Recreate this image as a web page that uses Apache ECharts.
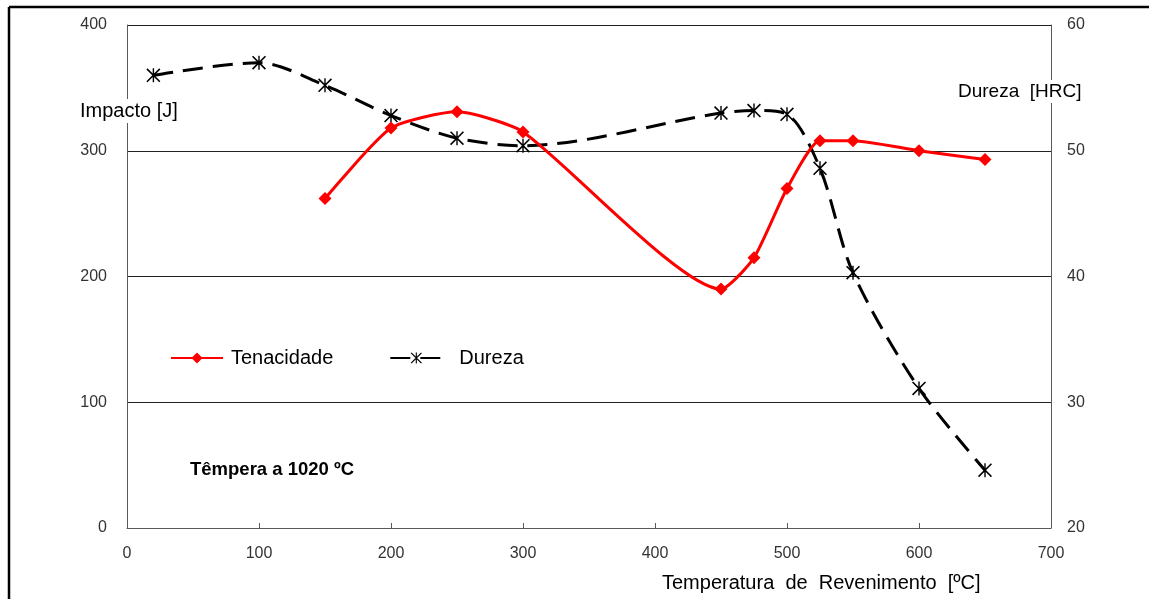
<!DOCTYPE html>
<html><head><meta charset="utf-8">
<script src="https://cdn.jsdelivr.net/npm/echarts@6/dist/echarts.min.js"></script>
<style>html,body{margin:0;padding:0;background:#fff}#c{width:1149px;height:599px}</style>
</head><body><div id="c"></div>
<script>
const tenTemps = [150, 200, 250, 300, 450, 475, 500, 525, 550, 600, 650];
const tenValues = [262, 318, 331, 315, 190, 215, 270, 308, 308, 300, 293];
const durTemps = [20, 100, 150, 200, 250, 300, 450, 475, 500, 525, 550, 600, 650];
const durValues = [56.0, 57.0, 55.2, 52.8, 51.0, 50.4, 53.0, 53.2, 52.9, 48.6, 40.3, 31.1, 24.6];
const xTicks = [0, 100, 200, 300, 400, 500, 600, 700];
const leftTicks = [0, 100, 200, 300, 400];
const rightTicks = [20, 30, 40, 50, 60];

const asterisk = 'path://M4.5 0L5.5 0L5.5 10L4.5 10Z M0 0.8L0.8 0L10 9.2L9.2 10Z M9.2 0L10 0.8L0.8 10L0 9.2Z';
const font = '"Liberation Sans", Arial, sans-serif';

const chart = echarts.init(document.getElementById('c'));
chart.setOption({
  animation: false,
  backgroundColor: '#fff',
  grid: { left: 127, right: 98, top: 25, bottom: 71, containLabel: false },
  legend: {
    left: 170, top: 348, padding: 0, itemGap: 56, itemWidth: 52, itemHeight: 14,
    textStyle: { fontFamily: font, fontSize: 20, color: '#000', padding: [0,0,0,3] },
    data: [
      { name: 'Tenacidade' },
      { name: 'Dureza', textStyle: { padding: [0,0,0,12] } }
    ]
  },
  xAxis: {
    type: 'value', min: xTicks[0], max: xTicks[xTicks.length-1], interval: 100,
    axisLine: { show: true, lineStyle: { color: '#595959', width: 1 } },
    axisTick: { show: true, inside: true, length: 5, lineStyle: { color: '#595959' } },
    axisLabel: { margin: 18, fontFamily: font, fontSize: 16, color: '#333' },
    splitLine: { show: false }
  },
  yAxis: [{
    type: 'value', min: leftTicks[0], max: leftTicks[leftTicks.length-1], interval: 100,
    axisLine: { show: true, lineStyle: { color: '#595959', width: 1 } },
    axisTick: { show: false },
    axisLabel: { margin: 20, fontFamily: font, fontSize: 16, color: '#333' },
    splitLine: { show: true, lineStyle: { color: '#222', width: 1 } }
  }, {
    type: 'value', min: rightTicks[0], max: rightTicks[rightTicks.length-1], interval: 10,
    position: 'right',
    axisLine: { show: true, lineStyle: { color: '#595959', width: 1 } },
    axisTick: { show: false },
    axisLabel: { margin: 16, fontFamily: font, fontSize: 16, color: '#333' },
    splitLine: { show: false }
  }],
  series: [{
    name: 'Tenacidade', type: 'line', yAxisIndex: 0, smooth: 0.2,
    data: tenTemps.map((t, i) => [t, tenValues[i]]),
    symbol: 'diamond', symbolSize: 13,
    lineStyle: { color: '#ff0000', width: 3 },
    itemStyle: { color: '#ff0000' }, z: 3
  }, {
    name: 'Dureza', type: 'line', yAxisIndex: 1, smooth: 0.3,
    data: durTemps.map((t, i) => [t, durValues[i]]),
    symbol: asterisk, symbolSize: 14,
    lineStyle: { color: '#000', width: 3, type: [20, 10] },
    itemStyle: { color: '#000', borderWidth: 0 }, z: 2
  }],
  graphic: [
    { type: 'line', shape: { x1: 9, y1: 7, x2: 1149, y2: 7 }, style: { stroke: '#000', lineWidth: 2.5 }, z: 10 },
    { type: 'line', shape: { x1: 9, y1: 7, x2: 9, y2: 599 }, style: { stroke: '#000', lineWidth: 2.5 }, z: 10 },
    { type: 'text', left: 78, top: 99, z: 10,
      style: { text: 'Impacto [J]', fontFamily: font, fontSize: 20, fill: '#000', backgroundColor: '#fff', padding: [2, 2] } },
    { type: 'text', left: 956, top: 80, z: 10,
      style: { text: 'Dureza  [HRC]', fontFamily: font, fontSize: 19, fill: '#000', backgroundColor: '#fff', padding: [2, 2] } },
    { type: 'text', left: 190, top: 460, z: 10,
      style: { text: 'Têmpera a 1020 ºC', fontFamily: font, fontSize: 18.5, fontWeight: 'bold', fill: '#000' } },
    { type: 'text', left: 662, top: 573, z: 10,
      style: { text: 'Temperatura  de  Revenimento  [ºC]', fontFamily: font, fontSize: 20, fill: '#000' } }
  ]
});
</script></body></html>
